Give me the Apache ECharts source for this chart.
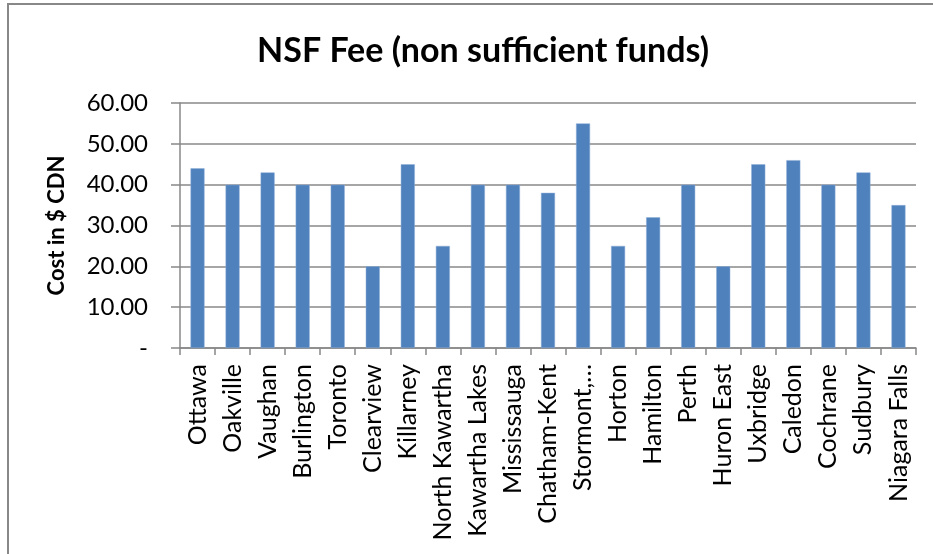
<!DOCTYPE html>
<html>
<head>
<meta charset="utf-8">
<style>
  html, body { margin: 0; padding: 0; background: #fff; }
  #main { width: 933px; height: 554px; }
</style>
<script src="https://cdn.jsdelivr.net/npm/echarts@6/dist/echarts.min.js"></script>
</head>
<body>
<div id="main"></div>
<script>
const cities = [
  'Ottawa', 'Oakville', 'Vaughan', 'Burlington', 'Toronto', 'Clearview',
  'Killarney', 'North Kawartha', 'Kawartha Lakes', 'Mississauga', 'Chatham-Kent',
  'Stormont,…', 'Horton', 'Hamilton', 'Perth', 'Huron East', 'Uxbridge',
  'Caledon', 'Cochrane', 'Sudbury', 'Niagara Falls'
];
const nsfFees = [44, 40, 43, 40, 40, 20, 45, 25, 40, 40, 38, 55, 25, 32, 40, 20, 45, 46, 40, 43, 35];
const yTickLabels = ['-', '10.00', '20.00', '30.00', '40.00', '50.00', '60.00'];

const font = 'Lato, "Open Sans", sans-serif';
const chart = echarts.init(document.getElementById('main'));

const option = {
  animation: false,
  title: {
    text: 'NSF Fee (non sufficient funds)',
    left: 478,
    textAlign: 'center',
    top: 29,
    textStyle: { fontFamily: font, fontSize: 34, fontWeight: 'bold', color: '#000' }
  },
  graphic: [{
    type: 'rect',
    shape: { x: 8, y: 4, width: 1000, height: 700 },
    style: { fill: 'none', stroke: '#888', lineWidth: 2 },
    silent: true
  }],
  grid: { left: 180, right: 17, top: 103, bottom: 206 },
  xAxis: {
    type: 'category',
    data: cities,
    axisLine: { lineStyle: { color: '#888', width: 1.5 } },
    axisTick: { show: true, length: 7, alignWithLabel: false, lineStyle: { color: '#888', width: 1.5 } },
    axisLabel: {
      rotate: 90, interval: 0, margin: 16,
      fontFamily: font, fontSize: 25, color: '#000'
    }
  },
  yAxis: {
    type: 'value',
    min: 0, max: 60, interval: 10,
    name: 'Cost in $ CDN',
    nameLocation: 'middle',
    nameGap: 112,
    nameTextStyle: { fontFamily: font, fontSize: 22, fontWeight: 'bold', color: '#000' },
    axisLine: { show: true, lineStyle: { color: '#888', width: 1.5 } },
    axisTick: { show: true, length: 9, lineStyle: { color: '#888', width: 1.5 } },
    splitLine: { lineStyle: { color: '#888', width: 1.5 } },
    axisLabel: {
      margin: 32,
      fontFamily: font, fontSize: 24, color: '#000',
      formatter: v => yTickLabels[Math.round(v / 10)]
    }
  },
  series: [{
    name: 'NSF Fee',
    type: 'bar',
    data: nsfFees,
    barWidth: '40%',
    itemStyle: { color: '#4F81BD', borderColor: '#8FAEd6', borderWidth: 0.5 }
  }]
};
chart.setOption(option);
</script>
</body>
</html>
